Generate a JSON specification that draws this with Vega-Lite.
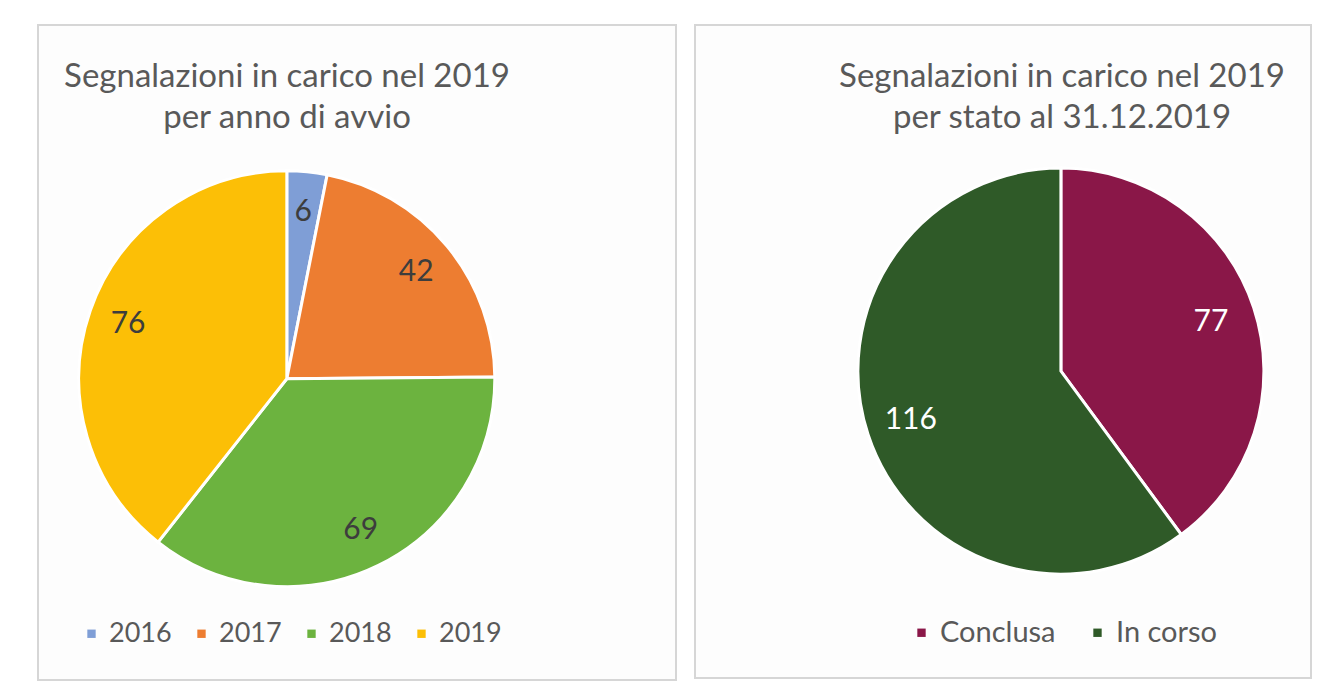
{
  "$schema": "https://vega.github.io/schema/vega-lite/v6.json",
  "padding": {"left": 37, "top": 24, "right": 0, "bottom": 0},
  "background": "white",
  "datasets": {
    "anno": [
      {"anno": "2016", "n": 6},
      {"anno": "2017", "n": 42},
      {"anno": "2018", "n": 69},
      {"anno": "2019", "n": 76}
    ],
    "stato": [
      {"stato": "Conclusa", "n": 77},
      {"stato": "In corso", "n": 116}
    ]
  },
  "config": {
    "view": {"stroke": "#d6d6d6", "strokeWidth": 2, "fill": "#fdfdfd"},
    "title": {"font": "Lato", "fontSize": 33, "fontWeight": "normal", "color": "#595959", "lineHeight": 41},
    "legend": {
      "labelFont": "Lato", "labelFontSize": 27, "labelColor": "#595959",
      "symbolType": "square", "symbolSize": 70, "symbolStrokeWidth": 0,
      "labelOffset": 4, "columnPadding": 16, "padding": 0
    }
  },
  "spacing": 17,
  "resolve": {"scale": {"color": "independent", "theta": "independent", "x": "independent", "y": "independent"}, "legend": {"color": "independent"}},
  "hconcat": [
    {
      "width": 638,
      "height": 655,
      "title": {"text": ["Segnalazioni in carico nel 2019", "per anno di avvio"], "offset": -110, "dx": -70},
      "data": {"name": "anno"},
      "encoding": {
        "theta": {"field": "n", "type": "quantitative", "stack": true},
        "x": {"datum": "c", "type": "nominal", "scale": {"type": "point", "align": 0.39}, "axis": null},
        "y": {"datum": "c", "type": "nominal", "scale": {"type": "point", "align": 0.54}, "axis": null}
      },
      "layer": [
        {
          "mark": {"type": "arc", "outerRadius": 208, "stroke": "white", "strokeWidth": 3},
          "encoding": {
            "color": {
              "field": "anno", "type": "nominal",
              "scale": {"domain": ["2016", "2017", "2018", "2019"], "range": ["#7f9ed6", "#ed7d31", "#6cb33f", "#fcbf06"]},
              "legend": {"title": null, "orient": "none", "direction": "horizontal", "legendX": 40, "legendY": 595}
            }
          }
        },
        {
          "mark": {"type": "text", "radius": 168, "font": "Lato", "fontSize": 30, "fill": "#3d3d3d"},
          "encoding": {
            "text": {"field": "n", "type": "quantitative"},
            "detail": {"field": "anno"}
          }
        }
      ]
    },
    {
      "width": 616,
      "height": 653,
      "title": {"text": ["Segnalazioni in carico nel 2019", "per stato al 31.12.2019"], "offset": -110, "dx": 59},
      "data": {"name": "stato"},
      "encoding": {
        "theta": {"field": "n", "type": "quantitative", "stack": true},
        "x": {"datum": "c", "type": "nominal", "scale": {"type": "point", "align": 0.594}, "axis": null},
        "y": {"datum": "c", "type": "nominal", "scale": {"type": "point", "align": 0.53}, "axis": null}
      },
      "layer": [
        {
          "mark": {"type": "arc", "outerRadius": 203, "stroke": "white", "strokeWidth": 3},
          "encoding": {
            "color": {
              "field": "stato", "type": "nominal",
              "scale": {"domain": ["Conclusa", "In corso"], "range": ["#8a1748", "#2f5a28"]},
              "legend": {"title": null, "orient": "none", "direction": "horizontal", "legendX": 212, "legendY": 593, "labelFontSize": 29, "columnPadding": 27}
            }
          }
        },
        {
          "mark": {"type": "text", "radius": 158, "font": "Lato", "fontSize": 30, "fill": "white"},
          "encoding": {
            "text": {"field": "n", "type": "quantitative"},
            "detail": {"field": "stato"}
          }
        }
      ]
    }
  ]
}
